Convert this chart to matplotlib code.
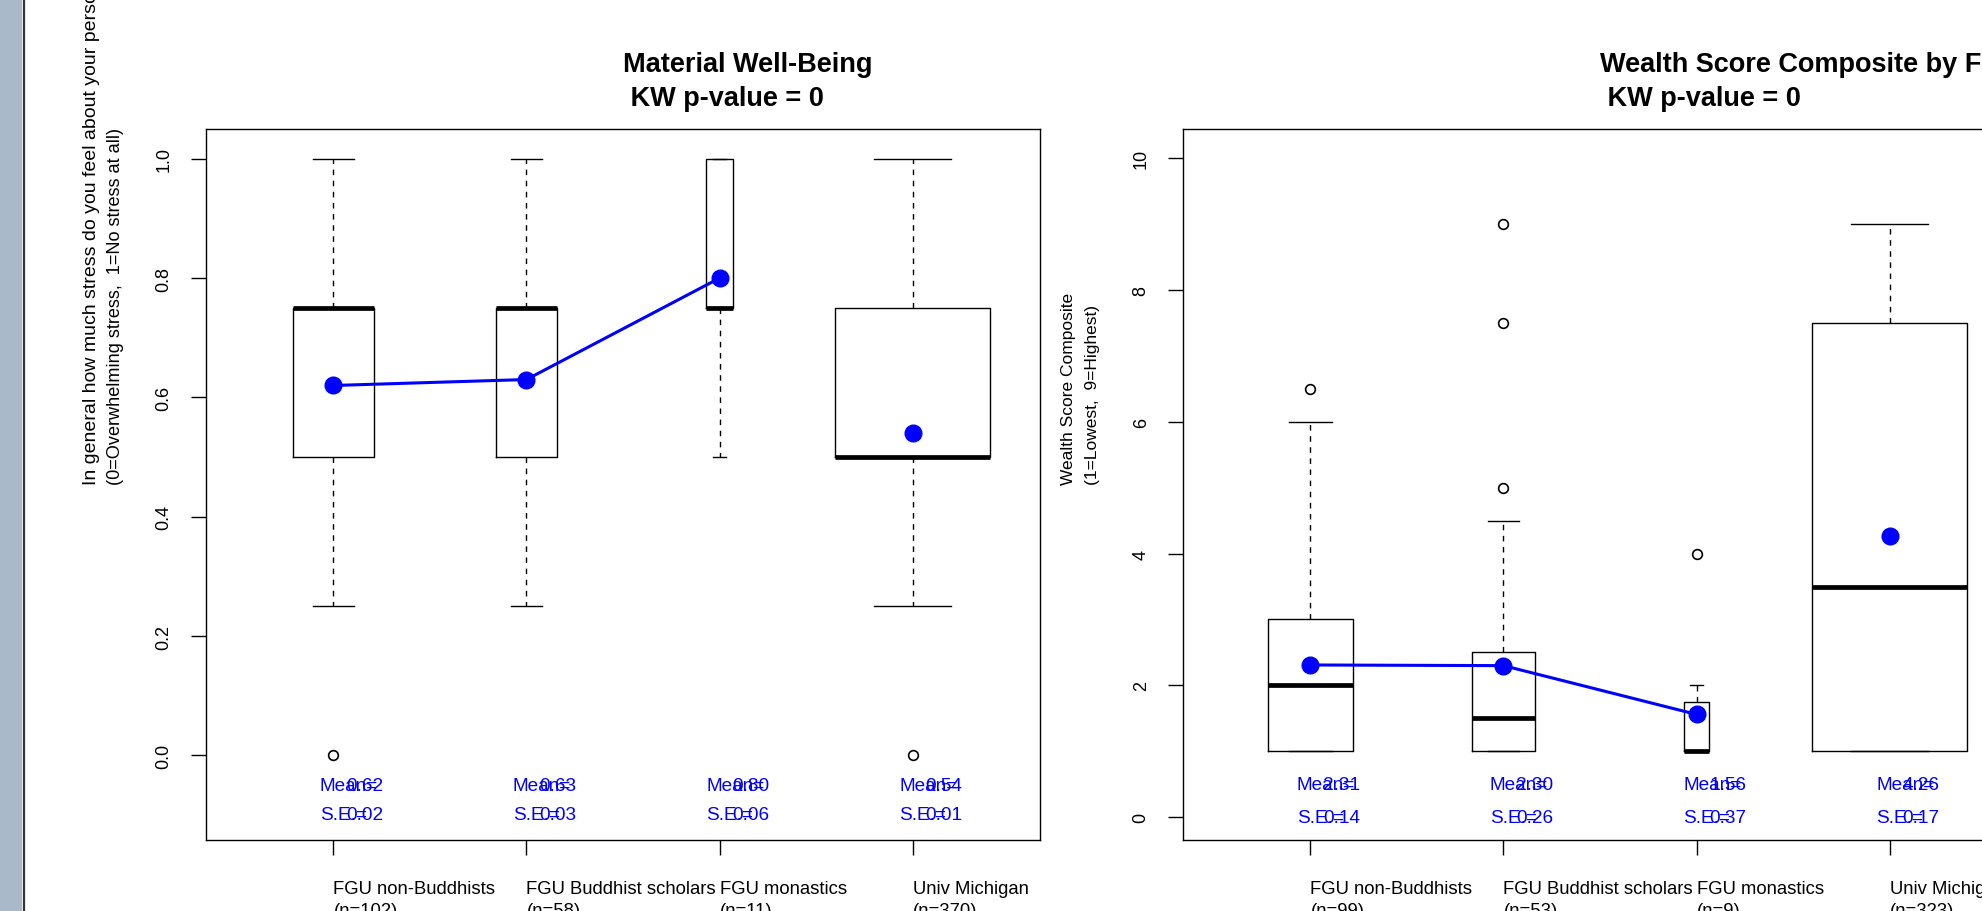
import numpy as np
import matplotlib.pyplot as plt
from matplotlib import transforms
from matplotlib.patches import Rectangle
from matplotlib.lines import Line2D

plt.rcParams["font.family"] = ["Liberation Sans", "DejaVu Sans"]

# Groups shown on both panels
groups = ["FGU non-Buddhists", "FGU Buddhist scholars", "FGU monastics", "Univ Michigan"]

# Panel 1: stress about finances (0..1)
stress_n = [102, 58, 11, 370]
stress_whislo = [0.25, 0.25, 0.5, 0.25]
stress_q1 = [0.5, 0.5, 0.75, 0.5]
stress_med = [0.75, 0.75, 0.75, 0.5]
stress_q3 = [0.75, 0.75, 1.0, 0.75]
stress_whishi = [1.0, 1.0, 1.0, 1.0]
stress_fliers = [[0.0], [], [], [0.0]]
stress_mean = [0.62, 0.63, 0.80, 0.54]
stress_se = [0.02, 0.03, 0.06, 0.01]

# Panel 2: wealth score composite (1..9)
wealth_n = [99, 53, 9, 323]
wealth_whislo = [1.0, 1.0, 1.0, 1.0]
wealth_q1 = [1.0, 1.0, 1.0, 1.0]
wealth_med = [2.0, 1.5, 1.0, 3.5]
wealth_q3 = [3.0, 2.5, 1.75, 7.5]
wealth_whishi = [6.0, 4.5, 2.0, 9.0]
wealth_fliers = [[6.5], [5.0, 7.5, 9.0], [4.0], []]
wealth_mean = [2.31, 2.30, 1.56, 4.26]
wealth_se = [0.14, 0.26, 0.37, 0.17]

W, H = 1982, 912
fig = plt.figure(figsize=(W / 100, H / 100), dpi=100)

# grey strip down the left edge
fig.patches.append(Rectangle((0, 0), 22 / W, 1, transform=fig.transFigure,
                             facecolor="#a9b9ca", edgecolor="none"))
fig.lines.append(Line2D([23.5 / W, 23.5 / W], [0, 1], transform=fig.transFigure,
                        color="#333333", lw=1.6))


def panel(left_px, stats, n, means, ses, ylim, yticks, ytick_fmt,
          mean_y, se_y, title, ylab, ylab_sizes):
    ax = fig.add_axes([left_px / W, 71 / H, 834 / W, 711 / H])
    pos = np.arange(1, len(groups) + 1)
    # variable width boxes: 0.8 * sqrt(n / max n)
    box_w = list(0.8 * np.sqrt(np.array(n) / max(n)))
    ax.bxp(stats, positions=pos, widths=box_w,
           capwidths=[w * 0.5 for w in box_w],
           boxprops=dict(color="black", lw=1.0),
           medianprops=dict(color="black", lw=3.4, solid_capstyle="butt"),
           whiskerprops=dict(color="black", lw=1.0, linestyle=(0, (4, 4))),
           capprops=dict(color="black", lw=1.0),
           flierprops=dict(marker="o", mfc="none", mec="black", ms=7, mew=1.2))
    # mean line over the FGU groups only
    ax.plot(pos[:3], means[:3], color="blue", lw=2.2, zorder=4)
    ax.plot(pos, means, "o", color="blue", ms=12, zorder=5)
    for x, m, s in zip(pos, means, ses):
        ax.text(x - 0.07, mean_y, "Mean=", color="blue", fontsize=13.7,
                ha="left", va="center")
        ax.text(x + 0.067, mean_y, "%.2f" % m, color="blue", fontsize=13.7,
                ha="left", va="center")
        ax.text(x - 0.07, se_y, "S.E.=", color="blue", fontsize=13.7,
                ha="left", va="center")
        ax.text(x + 0.067, se_y, "%.2f" % s, color="blue", fontsize=13.7,
                ha="left", va="center")
    ax.set_xlim(0.34, 4.66)
    ax.set_ylim(*ylim)
    ax.set_yticks(yticks)
    ax.set_yticklabels([ytick_fmt % v for v in yticks], rotation=90,
                       va="center", fontsize=13)
    ax.set_xticks(pos)
    ax.set_xticklabels(["%s\n(n=%d)" % (g, k) for g, k in zip(groups, n)],
                       ha="left", fontsize=13.3, linespacing=1.4)
    ax.tick_params(axis="y", length=11, width=1, pad=13)
    ax.tick_params(axis="x", length=11, width=1, pad=18)
    for sp in ax.spines.values():
        sp.set_linewidth(1.0)

    tr = transforms.blended_transform_factory(ax.transAxes, fig.transFigure)
    ax.text(0.5, 1 - 65.5 / H, title, transform=tr, ha="left", va="center",
            fontsize=19.5, fontweight="bold")
    ax.text(0.5, 1 - 99.5 / H, " KW p-value = 0", transform=tr, ha="left",
            va="center", fontsize=19.5, fontweight="bold")

    tr2 = transforms.blended_transform_factory(fig.transFigure, ax.transAxes)
    for dx, line, fs in zip([-114, -91], ylab, ylab_sizes):
        ax.text((left_px + dx) / W, 0.5, line, transform=tr2, rotation=90,
                rotation_mode="anchor", ha="left", va="center", fontsize=fs)
    return ax


def make_stats(lo, q1, med, q3, hi, fl):
    return [dict(whislo=a, q1=b, med=c, q3=d, whishi=e, fliers=f)
            for a, b, c, d, e, f in zip(lo, q1, med, q3, hi, fl)]


panel(206, make_stats(stress_whislo, stress_q1, stress_med, stress_q3,
                      stress_whishi, stress_fliers),
      stress_n, stress_mean, stress_se, (-0.142, 1.05),
      [0.0, 0.2, 0.4, 0.6, 0.8, 1.0], "%.1f", -0.05, -0.1,
      "Material Well-Being",
      ["In general how much stress do you feel about your personal finances",
       "(0=Overwhelming stress,  1=No stress at all)"], [14.0, 13.1])

panel(1183, make_stats(wealth_whislo, wealth_q1, wealth_med, wealth_q3,
                       wealth_whishi, wealth_fliers),
      wealth_n, wealth_mean, wealth_se, (-0.345, 10.44),
      [0, 2, 4, 6, 8, 10], "%d", 0.5, 0.0,
      "Wealth Score Composite by Faith Group",
      ["Wealth Score Composite", "(1=Lowest,  9=Highest)"], [12.5, 12.5])

fig.savefig("out.png", dpi=100)
